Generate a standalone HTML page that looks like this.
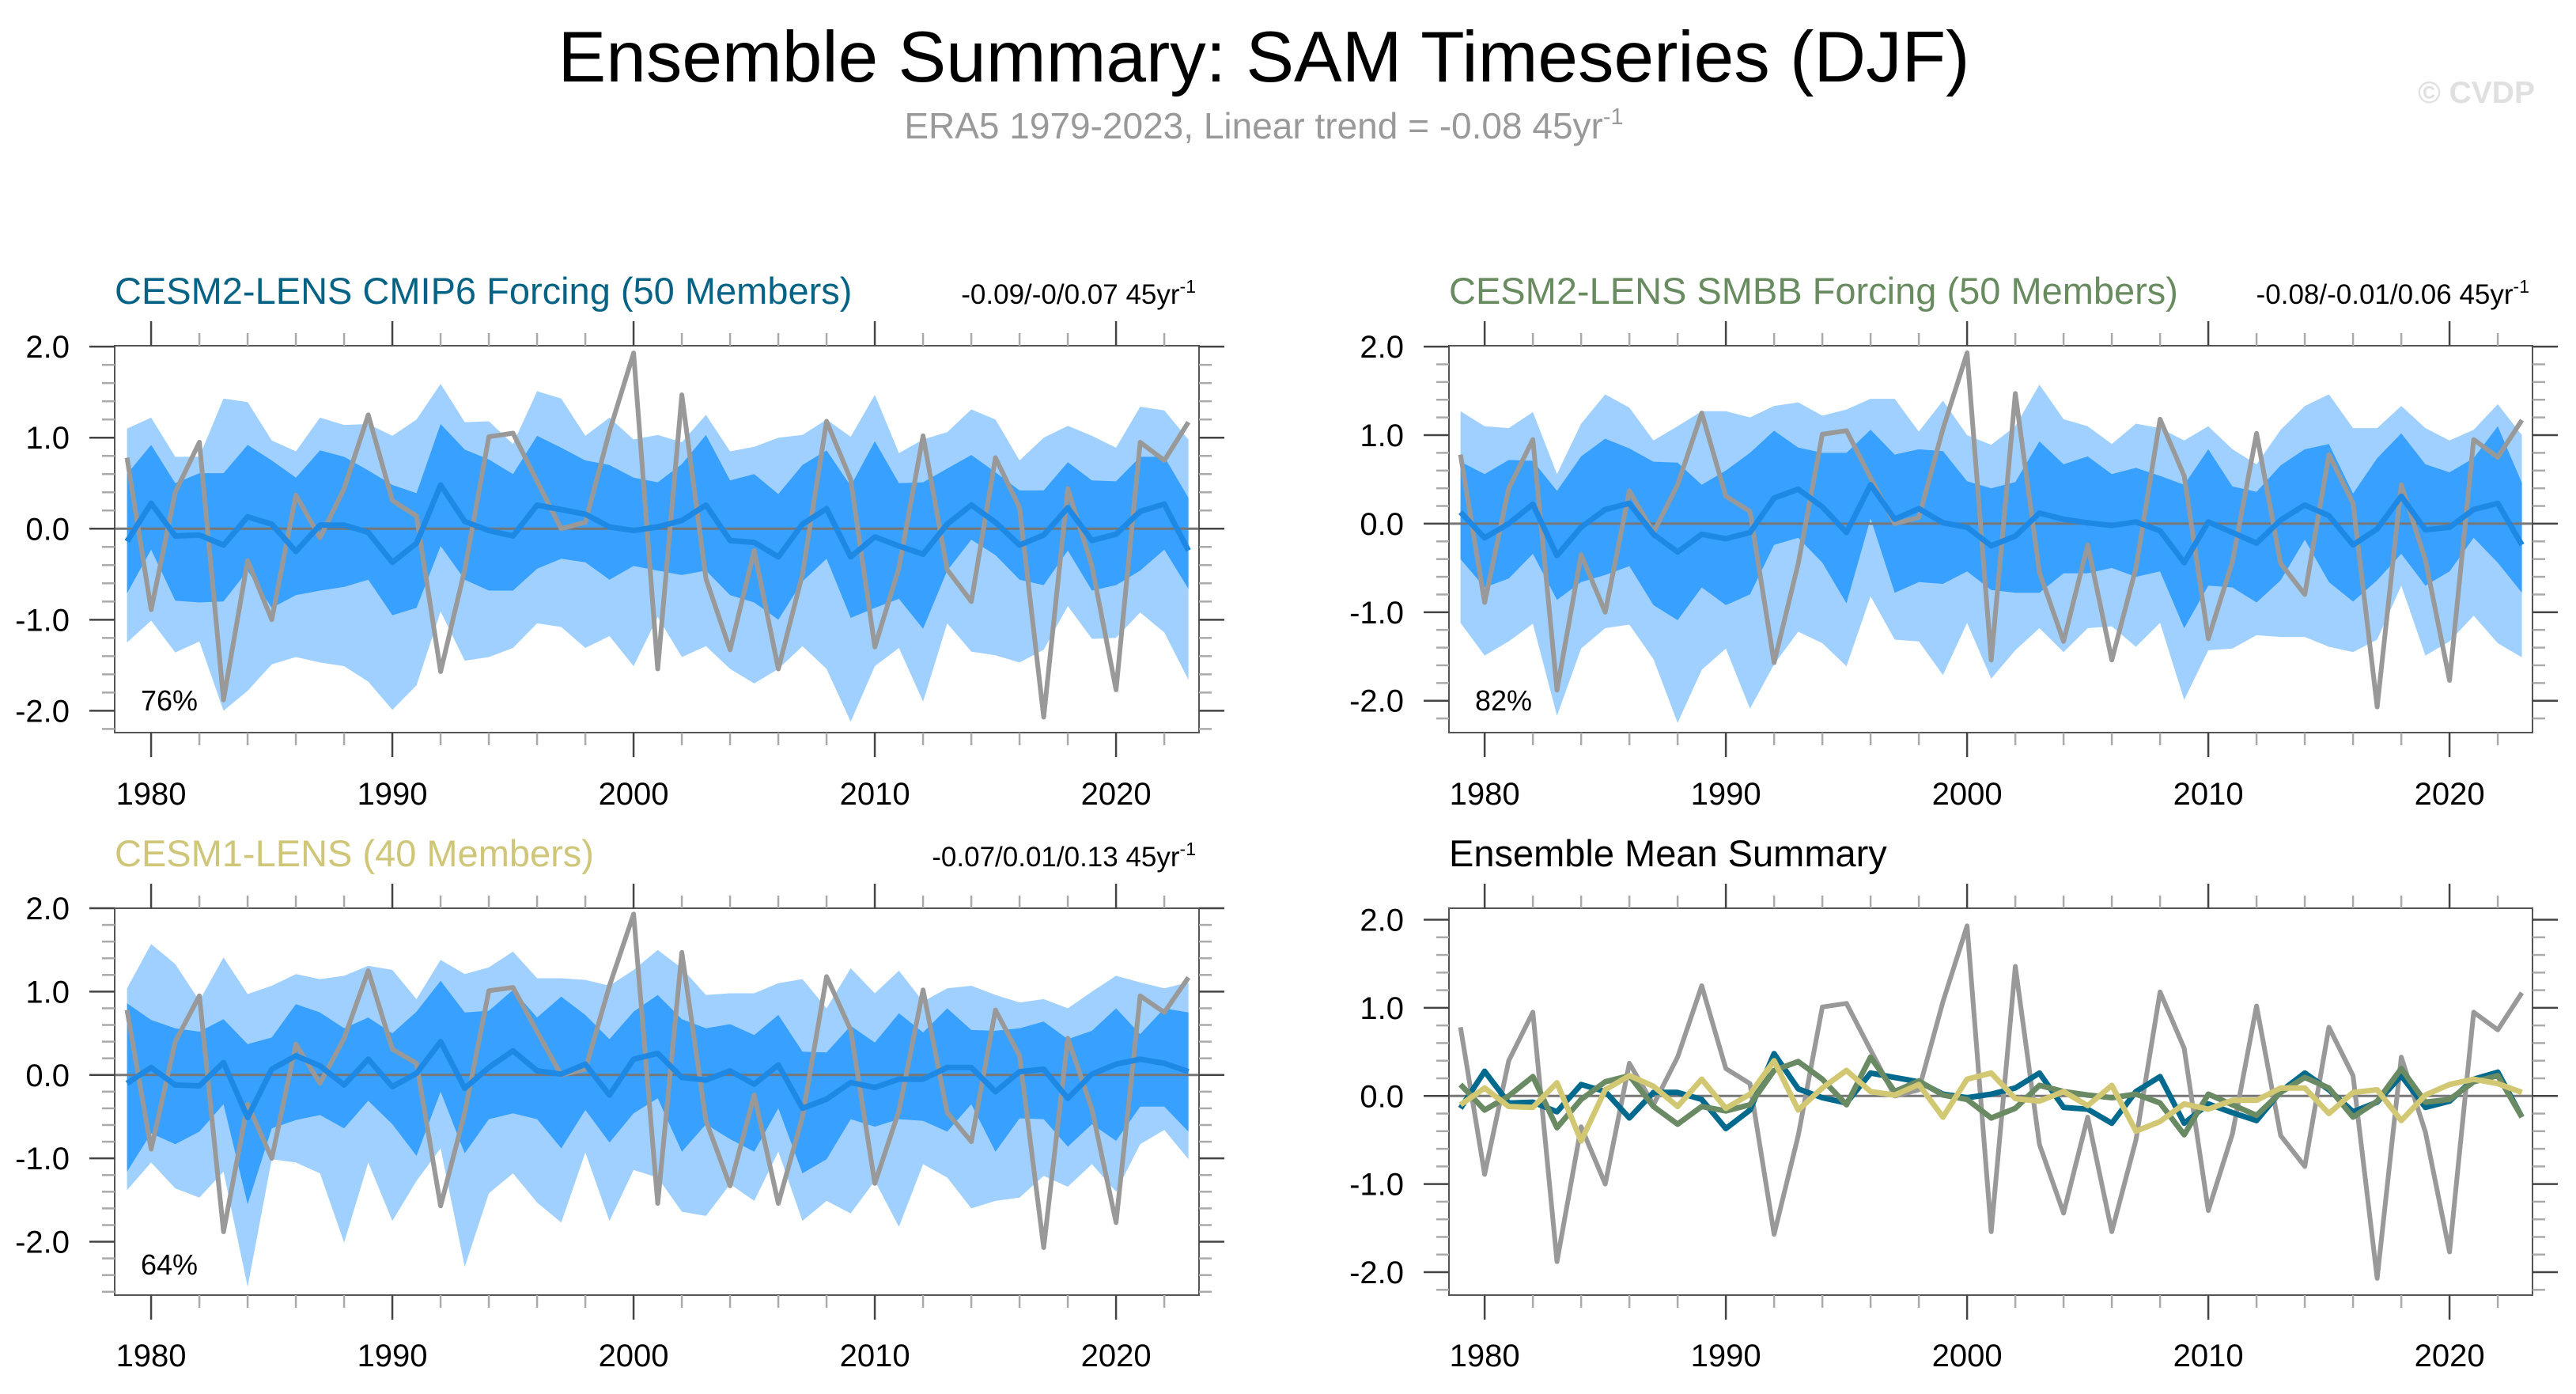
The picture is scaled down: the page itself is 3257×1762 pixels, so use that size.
<!DOCTYPE html>
<html><head><meta charset="utf-8"><style>
html,body{margin:0;padding:0;background:#fff;}
svg{display:block;font-family:"Liberation Sans",Arial,sans-serif;}
</style></head><body>
<svg id="chart" width="3257" height="1762" viewBox="0 0 3257 1762" xmlns="http://www.w3.org/2000/svg">
<rect width="3257" height="1762" fill="#fff"/>
<text x="1598" y="103" font-size="91" text-anchor="middle" fill="#000">Ensemble Summary: SAM Timeseries (DJF)</text>
<text x="1598" y="175" font-size="46" text-anchor="middle" fill="#999">ERA5 1979-2023, Linear trend = -0.08 45yr<tspan dy="-18" font-size="29">-1</tspan></text>
<text x="3205" y="130" font-size="39" font-weight="bold" text-anchor="end" fill="#e0e0e0">© CVDP</text>
<g id="plots"></g>
</svg>
<script>
const years = [];
for (let y = 1979; y <= 2023; y++) years.push(y);
const obs = [0.78,-0.89,0.40,0.95,-1.88,-0.35,-1.00,0.37,-0.10,0.44,1.25,0.31,0.14,-1.57,-0.45,1.01,1.05,0.52,0.00,0.07,1.07,1.93,-1.54,1.47,-0.55,-1.33,-0.24,-1.54,-0.50,1.18,0.54,-1.30,-0.43,1.02,-0.45,-0.80,0.78,0.23,-2.07,0.44,-0.41,-1.77,0.95,0.75,1.17];
const meanCmip6 = [-0.14,0.28,-0.08,-0.07,-0.18,0.13,0.05,-0.25,0.04,0.04,-0.04,-0.37,-0.16,0.48,0.08,-0.02,-0.08,0.26,0.21,0.16,0.02,-0.02,0.02,0.09,0.26,-0.13,-0.15,-0.31,0.05,0.22,-0.31,-0.09,-0.19,-0.28,0.05,0.26,0.07,-0.18,-0.07,0.23,-0.13,-0.06,0.19,0.27,-0.24];
const meanSmbb = [0.13,-0.16,0.00,0.22,-0.36,-0.04,0.16,0.23,-0.12,-0.32,-0.12,-0.17,-0.10,0.29,0.39,0.19,-0.10,0.44,0.05,0.17,0.01,-0.04,-0.25,-0.14,0.12,0.05,0.01,-0.02,0.02,-0.08,-0.44,0.02,-0.10,-0.22,0.04,0.21,0.09,-0.24,-0.06,0.31,-0.07,-0.04,0.16,0.23,-0.24];
const meanCesm1 = [-0.10,0.09,-0.12,-0.13,0.15,-0.51,0.07,0.23,0.11,-0.12,0.19,-0.14,0.02,0.40,-0.16,0.09,0.29,0.05,0.01,0.13,-0.24,0.19,0.26,-0.03,-0.06,0.05,-0.11,0.12,-0.40,-0.29,-0.09,-0.15,-0.05,-0.05,0.09,0.09,-0.20,0.04,0.07,-0.28,0.01,0.13,0.19,0.14,0.04];
// CMIP6 spread bands (outer = light, inner = dark)
const cmip6OuterHi = [1.10,1.22,0.79,0.79,1.43,1.39,0.97,0.85,1.22,1.14,1.15,1.02,1.20,1.59,1.17,1.18,0.93,1.51,1.43,1.02,1.22,0.98,1.03,0.95,1.25,0.85,0.90,1.00,1.03,1.20,1.01,1.47,0.83,0.98,1.06,1.31,1.20,0.75,1.00,1.13,1.02,0.89,1.34,1.30,0.98];
const cmip6InnerHi = [0.60,0.92,0.50,0.61,0.61,0.92,0.75,0.56,0.86,0.79,0.64,0.48,0.39,1.15,0.87,0.76,0.60,1.02,0.89,0.75,0.70,0.56,0.51,0.71,1.03,0.53,0.60,0.38,0.70,0.86,0.47,0.96,0.50,0.51,0.66,0.81,0.62,0.42,0.42,0.73,0.53,0.52,0.79,0.79,0.34];
const cmip6InnerLo = [-0.71,-0.23,-0.79,-0.81,-0.80,-0.46,-0.87,-0.73,-0.68,-0.64,-0.56,-0.95,-0.87,-0.19,-0.56,-0.68,-0.68,-0.44,-0.33,-0.37,-0.56,-0.41,-0.46,-0.51,-0.46,-0.73,-0.81,-1.00,-0.58,-0.33,-0.98,-0.87,-0.77,-1.10,-0.46,-0.12,-0.29,-0.56,-0.62,-0.24,-0.68,-0.62,-0.46,-0.23,-0.66];
const cmip6OuterLo = [-1.25,-1.01,-1.36,-1.24,-2.00,-1.78,-1.49,-1.41,-1.47,-1.51,-1.68,-1.99,-1.72,-0.91,-1.45,-1.41,-1.31,-1.04,-1.08,-1.31,-1.18,-1.51,-0.97,-1.41,-1.29,-1.54,-1.70,-1.54,-1.29,-1.54,-2.12,-1.51,-1.31,-1.90,-1.04,-1.35,-1.39,-1.47,-1.33,-0.85,-1.21,-1.20,-0.92,-1.14,-1.66];
// SMBB spread bands
const smbbOuterHi = [1.27,1.10,1.08,1.26,0.56,1.13,1.46,1.31,0.94,1.10,1.27,1.27,1.20,1.33,1.37,1.22,1.29,1.41,1.41,1.04,1.39,1.00,0.89,1.10,1.57,1.18,1.10,0.90,1.13,1.08,0.94,1.10,0.84,0.67,1.06,1.33,1.46,1.08,1.08,1.33,1.08,0.94,1.06,1.35,1.00];
const smbbInnerHi = [0.70,0.56,0.72,0.71,0.37,0.76,0.96,0.85,0.70,0.69,0.44,0.60,0.80,1.05,0.86,0.80,0.80,1.06,0.78,0.84,0.82,0.48,0.40,0.47,0.93,0.67,0.76,0.56,0.63,0.54,0.44,0.84,0.42,0.36,0.66,0.84,0.90,0.34,0.74,1.02,0.67,0.58,0.74,1.10,0.46];
const smbbInnerLo = [-0.40,-0.72,-0.62,-0.34,-0.86,-0.66,-0.58,-0.48,-0.92,-1.09,-0.72,-0.92,-0.80,-0.24,-0.16,-0.44,-0.90,0.06,-0.78,-0.66,-0.68,-0.54,-0.75,-0.78,-0.78,-0.56,-0.56,-0.50,-0.60,-0.54,-1.18,-0.70,-0.72,-0.89,-0.64,-0.18,-0.66,-0.88,-0.64,-0.34,-0.70,-0.54,-0.16,-0.44,-0.78];
const smbbOuterLo = [-1.12,-1.49,-1.33,-1.13,-2.17,-1.41,-1.18,-1.14,-1.53,-2.25,-1.65,-1.41,-2.09,-1.59,-1.22,-1.35,-1.61,-0.82,-1.31,-1.33,-1.71,-1.12,-1.75,-1.43,-1.18,-1.45,-1.18,-1.16,-1.39,-1.12,-1.99,-1.43,-1.41,-1.26,-1.28,-1.28,-1.39,-1.45,-1.31,-0.70,-1.49,-1.33,-1.04,-1.35,-1.51];
// CESM1 spread bands
const cesm1OuterHi = [1.04,1.57,1.33,0.89,1.41,0.97,1.07,1.21,1.15,1.19,1.31,1.26,0.91,1.38,1.21,1.29,1.48,1.16,1.16,1.14,1.07,1.26,1.50,1.28,0.96,0.98,0.98,1.10,1.15,0.80,1.28,0.98,1.25,0.88,1.04,1.07,0.96,0.87,0.91,0.80,1.00,1.19,1.11,1.04,1.11];
const cesm1InnerHi = [0.86,0.66,0.56,0.52,0.67,0.37,0.45,0.85,0.75,0.56,0.69,0.50,0.76,1.13,0.75,0.77,1.02,0.69,0.94,0.72,0.43,0.76,0.96,0.67,0.56,0.61,0.48,0.72,0.28,0.27,0.59,0.39,0.74,0.51,0.80,0.54,0.53,0.56,0.64,0.43,0.53,0.80,0.49,0.80,0.75];
const cesm1InnerLo = [-1.16,-0.70,-0.83,-0.68,-0.35,-1.55,-0.64,-0.54,-0.48,-0.64,-0.31,-0.59,-0.97,-0.20,-0.94,-0.53,-0.46,-0.53,-0.88,-0.42,-0.81,-0.46,-0.28,-0.92,-0.59,-0.77,-0.92,-0.40,-1.18,-1.01,-0.53,-0.62,-0.53,-0.55,-0.68,-0.35,-0.92,-0.52,-0.53,-0.86,-0.59,-0.79,-0.38,-0.38,-0.68];
const cesm1OuterLo = [-1.38,-1.05,-1.36,-1.47,-1.16,-2.54,-1.01,-1.05,-1.18,-2.01,-1.05,-1.75,-1.27,-0.88,-2.30,-1.42,-1.18,-1.53,-1.77,-0.93,-1.75,-1.14,-1.23,-1.64,-1.69,-1.31,-1.51,-0.92,-1.75,-1.51,-1.66,-1.27,-1.82,-1.07,-1.23,-1.60,-1.51,-1.47,-1.21,-1.34,-1.07,-1.40,-0.83,-0.66,-1.01];
const xTickLabels = [1980,1990,2000,2010,2020];
const yTickLabels = [2.0,1.0,0.0,-1.0,-2.0];

const NS = "http://www.w3.org/2000/svg";
const root = document.getElementById('plots');
function mk(tag, attrs, parent){
  const e = document.createElementNS(NS, tag);
  for (const k in attrs) e.setAttribute(k, attrs[k]);
  (parent||root).appendChild(e);
  return e;
}
function drawPanel(cfg){
  const g = mk('g', {});
  
  
  const xs = yr => cfg.left + (yr - cfg.x0) / (cfg.x1 - cfg.x0) * (cfg.right - cfg.left);
  const ys = v => cfg.bottom - (v - cfg.ymin) / (cfg.ymax - cfg.ymin) * (cfg.bottom - cfg.top);
  const clip = 'clip-' + cfg.name;
  const cp = mk('clipPath', {id: clip}, g);
  mk('rect', {x: cfg.left, y: cfg.top, width: cfg.right - cfg.left, height: cfg.bottom - cfg.top}, cp);
  const inner = mk('g', {'clip-path': 'url(#' + clip + ')'}, g);
  function band(hi, lo, color, nm){
    let d = '';
    years.forEach((yr, i) => { d += (i ? 'L' : 'M') + xs(yr).toFixed(1) + ',' + ys(hi[i]).toFixed(1); });
    for (let i = years.length - 1; i >= 0; i--) d += 'L' + xs(years[i]).toFixed(1) + ',' + ys(lo[i]).toFixed(1);
    const p = mk('path', {d: d + 'Z', fill: color}, inner);
    
    
  }
  function line(vals, color, w, nm){
    const pts = years.map((yr, i) => xs(yr).toFixed(1) + ',' + ys(vals[i]).toFixed(1)).join(' ');
    const p = mk('polyline', {points: pts, fill: 'none', stroke: color, 'stroke-width': w, 'stroke-linejoin': 'round'}, inner);
    
    
  }
  if (cfg.bands){
    band(cfg.bands[0], cfg.bands[3], '#a0d0ff', 'outer-spread-band');
    band(cfg.bands[1], cfg.bands[2], '#38a0ff', 'inner-spread-band');
  }
  const zl = mk('line', {x1: cfg.left, x2: cfg.right, y1: ys(0), y2: ys(0), stroke: '#777', 'stroke-width': 3}, inner);
  
  
  line(obs, '#999999', 6, 'era5-observed-line');
  cfg.lines.forEach(l => line(l.v, l.c, 7, l.n));
  const fr = mk('rect', {x: cfg.left, y: cfg.top, width: cfg.right - cfg.left, height: cfg.bottom - cfg.top, fill: 'none', stroke: '#555', 'stroke-width': 2}, g);
  
  
  for (let yr = 1980; yr <= 2022; yr += 2){
    const maj = yr % 10 === 0, L = maj ? 31 : 16, x = xs(yr);
    mk('line', {x1: x, x2: x, y1: cfg.top, y2: cfg.top - L, stroke: maj ? '#444' : '#aaa', 'stroke-width': 2.5}, g);
    mk('line', {x1: x, x2: x, y1: cfg.bottom, y2: cfg.bottom + L, stroke: maj ? '#444' : '#aaa', 'stroke-width': 2.5}, g);
  }
  xTickLabels.forEach(yr => {
    const t = mk('text', {x: xs(yr), y: cfg.xlabY, 'font-size': 40, 'text-anchor': 'middle', fill: '#000'}, g);
    t.textContent = yr;
    
    
  });
  for (let k = -14; k <= 10; k++){
    const v = k / 5;
    if (v < cfg.ymin || v > cfg.ymax + 0.001) continue;
    const maj = k % 5 === 0, L = maj ? 32 : 16, y = ys(v);
    mk('line', {x1: cfg.left, x2: cfg.left - L, y1: y, y2: y, stroke: maj ? '#444' : '#aaa', 'stroke-width': 2.5}, g);
    mk('line', {x1: cfg.right, x2: cfg.right + L, y1: y, y2: y, stroke: maj ? '#444' : '#aaa', 'stroke-width': 2.5}, g);
  }
  yTickLabels.forEach(v => {
    const t = mk('text', {x: cfg.left - 57, y: ys(v) + 14, 'font-size': 40, 'text-anchor': 'end', fill: '#000'}, g);
    t.textContent = v.toFixed(1);
    
    
  });
  const tt = mk('text', {x: cfg.left, y: cfg.titleY, 'font-size': 47, fill: cfg.titleColor}, g);
  tt.textContent = cfg.title;
  
  
  if (cfg.trend){
    const tr = mk('text', {x: cfg.right - 4, y: cfg.titleY, 'font-size': 35, 'text-anchor': 'end', fill: '#000'}, g);
    tr.innerHTML = cfg.trend + ' 45yr<tspan dy="-14" font-size="23">-1</tspan>';
    
    
  }
  if (cfg.pct){
    const pc = mk('text', {x: cfg.left + 33, y: cfg.pctY, 'font-size': 36, fill: '#000'}, g);
    pc.textContent = cfg.pct;
    
    
  }
}
drawPanel({name: 'panel-cesm2-cmip6', left: 145, right: 1516, top: 437, bottom: 926, x0: 1978.49, x1: 2023.44, ymin: -2.24, ymax: 2.01,
  xlabY: 1017, titleY: 384, title: 'CESM2-LENS CMIP6 Forcing (50 Members)', titleColor: '#076385', trend: '-0.09/-0/0.07', pct: '76%', pctY: 898,
  bands: [cmip6OuterHi, cmip6InnerHi, cmip6InnerLo, cmip6OuterLo], lines: [{v: meanCmip6, c: '#1e88e5', n: 'ensemble-mean-line'}]});
drawPanel({name: 'panel-cesm2-smbb', left: 1832, right: 3202, top: 437, bottom: 926, x0: 1978.52, x1: 2023.44, ymin: -2.36, ymax: 2.01,
  xlabY: 1017, titleY: 384, title: 'CESM2-LENS SMBB Forcing (50 Members)', titleColor: '#688c60', trend: '-0.08/-0.01/0.06', pct: '82%', pctY: 898,
  bands: [smbbOuterHi, smbbInnerHi, smbbInnerLo, smbbOuterLo], lines: [{v: meanSmbb, c: '#1e88e5', n: 'ensemble-mean-line'}]});
drawPanel({name: 'panel-cesm1', left: 145, right: 1516, top: 1148, bottom: 1637, x0: 1978.49, x1: 2023.44, ymin: -2.64, ymax: 2.0,
  xlabY: 1727, titleY: 1095, title: 'CESM1-LENS (40 Members)', titleColor: '#cfc67a', trend: '-0.07/0.01/0.13', pct: '64%', pctY: 1611,
  bands: [cesm1OuterHi, cesm1InnerHi, cesm1InnerLo, cesm1OuterLo], lines: [{v: meanCesm1, c: '#1e88e5', n: 'ensemble-mean-line'}]});
drawPanel({name: 'panel-ensemble-mean-summary', left: 1832, right: 3202, top: 1148, bottom: 1637, x0: 1978.52, x1: 2023.44, ymin: -2.26, ymax: 2.13,
  xlabY: 1727, titleY: 1095, title: 'Ensemble Mean Summary', titleColor: '#000',
  lines: [{v: meanCmip6, c: '#006a8e', n: 'cmip6-mean-line'}, {v: meanSmbb, c: '#698a63', n: 'smbb-mean-line'}, {v: meanCesm1, c: '#d2c873', n: 'cesm1-mean-line'}]});
</script>
</body></html>
